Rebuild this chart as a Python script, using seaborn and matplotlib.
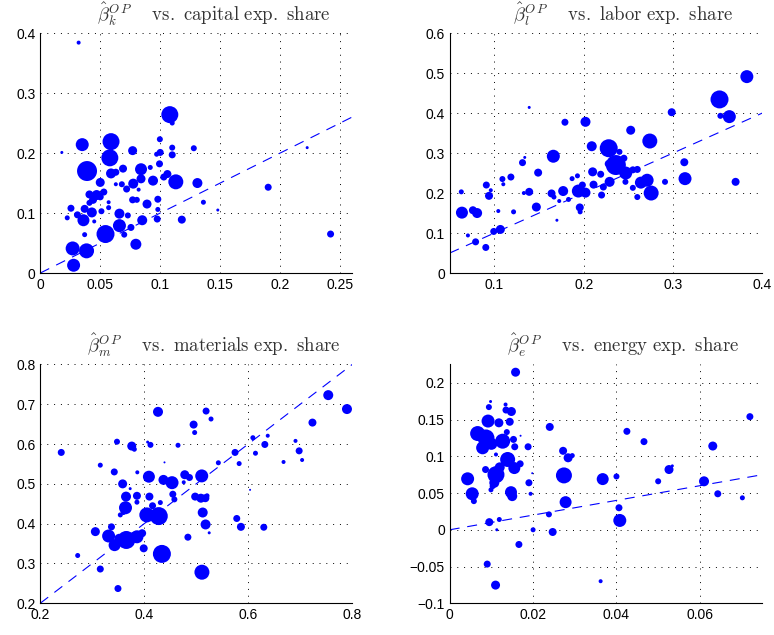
import matplotlib.pyplot as plt
import matplotlib.ticker as mticker
import numpy as np
import pandas as pd
import seaborn as sns

# Capital: expenditure share, OP coefficient, bubble weight (approx. diameter)
cap_share = [0.032, 0.108, 0.110, 0.035, 0.059, 0.058, 0.018, 0.077, 0.0997, 0.100,
             0.097, 0.110, 0.110, 0.128, 0.2225, 0.039, 0.059, 0.063, 0.069, 0.084,
             0.0917, 0.0994, 0.106, 0.103, 0.113, 0.131, 0.050, 0.094, 0.084, 0.0775,
             0.068, 0.063, 0.072, 0.082, 0.190, 0.041, 0.047, 0.053, 0.044, 0.050,
             0.077, 0.0805, 0.089, 0.098, 0.057, 0.057, 0.041, 0.136, 0.148, 0.0256,
             0.037, 0.043, 0.051, 0.098, 0.031, 0.066, 0.073, 0.0225, 0.036, 0.045,
             0.085, 0.0975, 0.118, 0.066, 0.0756, 0.070, 0.037, 0.0544, 0.242, 0.0797,
             0.027, 0.0386, 0.0278]
cap_beta = [0.384, 0.264, 0.250, 0.214, 0.219, 0.192, 0.201, 0.204, 0.223, 0.201,
            0.198, 0.209, 0.197, 0.208, 0.209, 0.170, 0.166, 0.168, 0.174, 0.173,
            0.176, 0.182, 0.165, 0.160, 0.152, 0.150, 0.151, 0.154, 0.157, 0.149,
            0.148, 0.148, 0.140, 0.139, 0.143, 0.131, 0.130, 0.135, 0.122, 0.127,
            0.122, 0.122, 0.115, 0.123, 0.118, 0.109, 0.117, 0.118, 0.105, 0.108,
            0.107, 0.101, 0.103, 0.106, 0.097, 0.099, 0.096, 0.092, 0.088, 0.086,
            0.088, 0.090, 0.089, 0.079, 0.076, 0.064, 0.064, 0.065, 0.065, 0.048,
            0.041, 0.037, 0.013]
cap_w = [4, 17, 5, 13, 17, 17, 3, 9, 6, 7,
         5, 6, 7, 6, 3, 20, 10, 7, 8, 12,
         5, 7, 8, 7, 15, 10, 9, 10, 9, 10,
         6, 4, 7, 4, 7, 8, 10, 7, 8, 7,
         7, 6, 9, 7, 4, 5, 6, 5, 3, 7,
         8, 10, 6, 5, 7, 10, 6, 5, 12, 4,
         10, 7, 8, 13, 7, 6, 5, 18, 7, 11,
         14, 15, 13]

# Labor
lab_share = [0.3826, 0.352, 0.363, 0.353, 0.2985, 0.139, 0.179, 0.202, 0.2526, 0.274,
             0.272, 0.228, 0.209, 0.166, 0.134, 0.1315, 0.3126, 0.236, 0.245, 0.240,
             0.228, 0.247, 0.255, 0.260, 0.149, 0.1185, 0.109, 0.110, 0.091, 0.096,
             0.094, 0.063, 0.133, 0.139, 0.164, 0.177, 0.194, 0.1985, 0.202, 0.187,
             0.193, 0.210, 0.219, 0.211, 0.220, 0.229, 0.222, 0.2467, 0.255, 0.260,
             0.264, 0.271, 0.2755, 0.291, 0.3134, 0.370, 0.1667, 0.1726, 0.183, 0.147,
             0.1956, 0.196, 0.1215, 0.1044, 0.0637, 0.076, 0.0807, 0.170, 0.0993, 0.1067,
             0.0704, 0.079, 0.0904]
lab_beta = [0.491, 0.434, 0.391, 0.393, 0.402, 0.414, 0.377, 0.378, 0.357, 0.330,
            0.341, 0.312, 0.317, 0.292, 0.289, 0.276, 0.277, 0.270, 0.287, 0.303,
            0.273, 0.250, 0.258, 0.259, 0.251, 0.240, 0.235, 0.222, 0.220, 0.207,
            0.193, 0.203, 0.200, 0.203, 0.199, 0.205, 0.205, 0.220, 0.201, 0.236,
            0.243, 0.253, 0.247, 0.221, 0.195, 0.228, 0.215, 0.228, 0.213, 0.190,
            0.226, 0.232, 0.200, 0.228, 0.236, 0.228, 0.190, 0.180, 0.184, 0.165,
            0.164, 0.153, 0.153, 0.155, 0.151, 0.157, 0.150, 0.132, 0.104, 0.109,
            0.094, 0.078, 0.064]
lab_w = [13, 18, 13, 6, 8, 3, 7, 10, 9, 15,
         5, 18, 10, 13, 3, 7, 8, 20, 7, 6,
         8, 13, 7, 7, 8, 7, 6, 4, 7, 4,
         8, 5, 4, 8, 8, 10, 13, 7, 10, 5,
         5, 9, 7, 8, 7, 10, 7, 6, 6, 6,
         12, 13, 15, 6, 13, 8, 5, 4, 5, 9,
         8, 5, 5, 4, 12, 8, 10, 3, 7, 9,
         4, 7, 7]

# Materials
mat_share = [0.4265, 0.519, 0.5285, 0.495, 0.497, 0.754, 0.790, 0.7236, 0.2404, 0.3476,
             0.376, 0.381, 0.4066, 0.412, 0.465, 0.5747, 0.609, 0.6376, 0.632, 0.614,
             0.691, 0.698, 0.7037, 0.668, 0.5426, 0.5826, 0.439, 0.3155, 0.3424, 0.3867,
             0.3585, 0.373, 0.409, 0.437, 0.4535, 0.478, 0.487, 0.5106, 0.476, 0.365,
             0.364, 0.360, 0.386, 0.410, 0.431, 0.416, 0.455, 0.458, 0.498, 0.509,
             0.5176, 0.5208, 0.386, 0.405, 0.428, 0.5125, 0.518, 0.525, 0.578, 0.586,
             0.630, 0.6036, 0.354, 0.306, 0.3315, 0.337, 0.343, 0.3656, 0.386, 0.396,
             0.399, 0.434, 0.484, 0.511, 0.272, 0.3155, 0.3495, 0.352]
mat_beta = [0.681, 0.683, 0.663, 0.649, 0.629, 0.723, 0.688, 0.654, 0.579, 0.606,
            0.595, 0.587, 0.605, 0.598, 0.597, 0.579, 0.616, 0.621, 0.599, 0.577,
            0.608, 0.583, 0.560, 0.555, 0.553, 0.551, 0.554, 0.547, 0.530, 0.529,
            0.500, 0.488, 0.518, 0.510, 0.503, 0.523, 0.516, 0.520, 0.504, 0.468,
            0.440, 0.428, 0.470, 0.468, 0.453, 0.445, 0.474, 0.461, 0.468, 0.464,
            0.464, 0.470, 0.454, 0.422, 0.419, 0.428, 0.398, 0.377, 0.413, 0.392,
            0.391, 0.485, 0.422, 0.380, 0.369, 0.392, 0.346, 0.359, 0.367, 0.376,
            0.338, 0.324, 0.366, 0.278, 0.320, 0.286, 0.237, 0.362]
mat_w = [10, 7, 5, 8, 5, 10, 10, 8, 7, 6,
         9, 5, 3, 6, 5, 7, 5, 4, 7, 5,
         4, 7, 4, 4, 5, 5, 2, 5, 7, 4,
         9, 3, 12, 10, 13, 9, 7, 13, 4, 10,
         13, 5, 8, 8, 5, 7, 7, 6, 8, 9,
         8, 5, 5, 15, 18, 10, 10, 3, 7, 8,
         7, 2, 5, 9, 13, 7, 12, 18, 13, 8,
         8, 18, 7, 15, 5, 7, 7, 10]

# Energy
en_share = [0.0158, 0.0720, 0.0240, 0.0425, 0.0466, 0.0631, 0.0272, 0.0284, 0.0294, 0.0274,
            0.0367, 0.0400, 0.0526, 0.0534, 0.0500, 0.0610, 0.0643, 0.0702, 0.0278, 0.0406,
            0.0408, 0.0238, 0.0200, 0.0247, 0.0362, 0.0166, 0.0090, 0.0110, 0.0095, 0.0119,
            0.0113, 0.0188, 0.0190, 0.0194, 0.0198, 0.0170, 0.0098, 0.0094, 0.0134, 0.0135,
            0.0148, 0.0092, 0.0118, 0.0144, 0.0067, 0.0087, 0.0079, 0.0127, 0.0137, 0.0153,
            0.0156, 0.0111, 0.0139, 0.0155, 0.0169, 0.0086, 0.0111, 0.0107, 0.0103, 0.0043,
            0.0054, 0.0058, 0.0099, 0.0147, 0.0150, 0.0100, 0.0120]
en_beta = [0.2145, 0.154, 0.140, 0.134, 0.120, 0.114, 0.1075, 0.098, 0.101, 0.074,
           0.069, 0.0726, 0.082, 0.087, 0.066, 0.066, 0.049, 0.0435, 0.0376, 0.030,
           0.0127, 0.021, 0.000, -0.003, -0.070, -0.020, -0.0467, -0.0753, 0.0104, 0.014,
           0.000, 0.113, 0.064, 0.049, 0.077, 0.128, 0.1746, 0.167, 0.1705, 0.163,
           0.161, 0.148, 0.1456, 0.147, 0.131, 0.125, 0.1116, 0.1206, 0.133, 0.123,
           0.113, 0.1025, 0.0957, 0.084, 0.0898, 0.082, 0.075, 0.064, 0.0594, 0.0694,
           0.049, 0.039, 0.0544, 0.0512, 0.0458, 0.117, 0.085]
en_w = [9, 7, 8, 7, 7, 9, 8, 9, 5, 16,
        12, 6, 9, 3, 6, 10, 7, 5, 12, 7,
        13, 6, 5, 8, 4, 7, 7, 9, 8, 5,
        3, 7, 7, 4, 2, 2, 3, 6, 4, 7,
        9, 13, 9, 8, 15, 17, 13, 15, 6, 7,
        7, 4, 15, 12, 7, 7, 17, 10, 6, 13,
        13, 6, 5, 12, 10, 12, 10]

sns.set_style("white")
plt.rcParams['font.family'] = ['Liberation Sans', 'DejaVu Sans']
plt.rcParams['mathtext.fontset'] = 'cm'

panels = [
    (cap_share, cap_beta, cap_w, 'k', 'capital', (0, 0.26), (0, 0.4),
     np.arange(0, 0.26, 0.05), np.arange(0, 0.41, 0.1)),
    (lab_share, lab_beta, lab_w, 'l', 'labor', (0.05, 0.4), (0, 0.6),
     np.arange(0.1, 0.41, 0.1), np.arange(0, 0.61, 0.1)),
    (mat_share, mat_beta, mat_w, 'm', 'materials', (0.2, 0.8), (0.2, 0.8),
     np.arange(0.2, 0.81, 0.2), np.arange(0.2, 0.81, 0.1)),
    (en_share, en_beta, en_w, 'e', 'energy', (0, 0.075), (-0.1, 0.225),
     np.arange(0, 0.07, 0.02), np.arange(-0.1, 0.21, 0.05)),
]

rects = [[0.052, 0.570, 0.403, 0.378], [0.581, 0.570, 0.404, 0.378],
         [0.052, 0.050, 0.403, 0.376], [0.581, 0.050, 0.404, 0.376]]

fmt = mticker.FuncFormatter(lambda v, p: ('%g' % round(v, 4)).replace('-', '\u2212'))

fig = plt.figure(figsize=(7.74, 6.35), dpi=100)
for rect, (xs, ys, ws, sub, name, xl, yl, xt, yt) in zip(rects, panels):
    ax = fig.add_axes(rect)
    df = pd.DataFrame({'share': xs, 'beta': ys, 'area': np.array(ws, float) ** 2})
    sns.scatterplot(data=df, x='share', y='beta', size='area', sizes=(0, 207),
                    size_norm=(0, 400), color='#0000ff', edgecolor='none',
                    linewidth=0, legend=False, ax=ax, zorder=3)
    # 45-degree reference line
    ax.plot(xl, xl, color='#0000ff', linestyle=(0, (9, 7)), linewidth=0.8, zorder=2)
    ax.set_xlim(xl)
    ax.set_ylim(yl)
    ax.set_xticks(xt)
    ax.set_yticks(yt)
    ax.xaxis.set_major_formatter(fmt)
    ax.yaxis.set_major_formatter(fmt)
    ax.set_xlabel('')
    ax.set_ylabel('')
    ax.grid(True, linestyle=(0, (1, 6)), color='black', linewidth=0.7)
    ax.set_axisbelow(True)
    for s in ['top', 'right']:
        ax.spines[s].set_visible(False)
    for s in ['left', 'bottom']:
        ax.spines[s].set_color('black')
        ax.spines[s].set_linewidth(0.8)
    ax.tick_params(direction='in', length=3, width=0.6, pad=3.5,
                   labelsize=10, colors='black')
    title = (r'$\hat{\beta}_{%s}^{O\,P}\quad\ \mathrm{vs.\ %s\ exp.\ share}$'
             % (sub, name))
    ax.text(0.555, 1.05, title, transform=ax.transAxes, ha='center',
            va='baseline', fontsize=13.5, color='#333333')

fig.savefig('out.png', dpi=100)
